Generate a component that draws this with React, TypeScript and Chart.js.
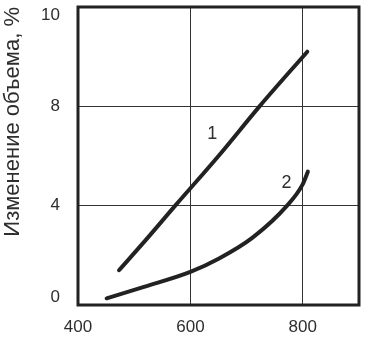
import React, { useEffect, useRef } from "react";
import { Chart, registerables } from "chart.js";

Chart.register(...registerables);

const curve1X = [473, 520, 573, 650, 723, 808];
const curve1Y = [1.4, 2.6, 4.0, 6.0, 8.0, 10.2];
const curve2X = [451, 516, 600, 651, 710, 772, 800, 809];
const curve2Y = [0.27, 0.72, 1.33, 1.87, 2.7, 4.0, 4.87, 5.37];

const xTicks = [400, 600, 800];
const yTickValues = [0, 4, 8, 12];
const yTickLabels = ["0", "4", "8", "10"];

const curveLabels = ["1", "2"];
const curveLabelX = [639, 771];
const curveLabelY = [6.88, 4.9];

const yTitle = "Изменение объема, %";

const INK = "#222222";
const TEXT = "#2e2e2e";
const FONT = "'Liberation Sans', Arial, sans-serif";

const framePlugin = {
  id: "frame",
  afterDraw(chart: any) {
    const { ctx, chartArea, scales } = chart;
    ctx.save();
    ctx.strokeStyle = INK;
    ctx.lineWidth = 3;
    ctx.strokeRect(
      chartArea.left,
      chartArea.top,
      chartArea.right - chartArea.left,
      chartArea.bottom - chartArea.top
    );
    ctx.fillStyle = TEXT;
    ctx.font = `18px ${FONT}`;
    ctx.textAlign = "center";
    ctx.textBaseline = "middle";
    curveLabels.forEach((t, i) => {
      ctx.fillText(
        t,
        scales.x.getPixelForValue(curveLabelX[i]),
        scales.y.getPixelForValue(curveLabelY[i])
      );
    });
    // y tick labels, kept inside the plot height like the reference
    ctx.font = `17px ${FONT}`;
    ctx.textAlign = "right";
    yTickValues.forEach((v, i) => {
      let py = scales.y.getPixelForValue(v);
      py = Math.max(chartArea.top + 8, Math.min(chartArea.bottom - 8, py));
      ctx.fillText(yTickLabels[i], chartArea.left - 18, py);
    });
    ctx.restore();
  },
};

const whiteBg = {
  id: "whiteBg",
  beforeDraw(chart: any) {
    const { ctx, width, height } = chart;
    ctx.save();
    ctx.fillStyle = "#ffffff";
    ctx.fillRect(0, 0, width, height);
    ctx.restore();
  },
};

export default function App() {
  const ref = useRef<HTMLCanvasElement>(null);

  useEffect(() => {
    if (!ref.current) return;
    const chart = new Chart(ref.current, {
      type: "line",
      data: {
        datasets: [
          {
            label: "1",
            data: curve1X.map((x, i) => ({ x, y: curve1Y[i] })),
            borderColor: INK,
            borderWidth: 4,
            pointRadius: 0,
            cubicInterpolationMode: "monotone",
            borderCapStyle: "round",
            fill: false,
          },
          {
            label: "2",
            data: curve2X.map((x, i) => ({ x, y: curve2Y[i] })),
            borderColor: INK,
            borderWidth: 4,
            pointRadius: 0,
            cubicInterpolationMode: "monotone",
            borderCapStyle: "round",
            fill: false,
          },
        ],
      },
      options: {
        responsive: false,
        animation: false,
        layout: { padding: { top: 7, right: 12, left: 0, bottom: 0 } },
        plugins: {
          legend: { display: false },
          tooltip: { enabled: false },
        },
        scales: {
          x: {
            type: "linear",
            min: 400,
            max: 900,
            afterBuildTicks: (s: any) => {
              s.ticks = xTicks.map((v) => ({ value: v }));
            },
            afterFit: (s: any) => {
              s.height = 32;
              s.paddingLeft = 0;
              s.paddingRight = 0;
            },
            grid: { color: "#333", lineWidth: 1, drawTicks: false },
            border: { display: false },
            ticks: {
              color: TEXT,
              font: { family: FONT, size: 17 },
              padding: 12,
              maxRotation: 0,
            },
          },
          y: {
            type: "linear",
            min: 0,
            max: 12,
            afterBuildTicks: (s: any) => {
              s.ticks = yTickValues.map((v) => ({ value: v }));
            },
            afterFit: (s: any) => {
              s.width = 78;
              s.paddingTop = 0;
              s.paddingBottom = 0;
            },
            grid: { color: "#333", lineWidth: 1, drawTicks: false },
            border: { display: false },
            ticks: {
              display: false,
              font: { family: FONT, size: 17 },
            },
            title: {
              display: true,
              text: yTitle,
              align: "end",
              color: TEXT,
              font: { family: FONT, size: 22 },
              padding: 0,
            },
          },
        },
      },
      plugins: [whiteBg, framePlugin],
    } as any);
    return () => chart.destroy();
  }, []);

  return (
    <div style={{ position: "fixed", left: 0, top: 0, width: 371, height: 337, background: "#fff" }}>
      <canvas ref={ref} width={371} height={337} style={{ width: 371, height: 337, display: "block" }} />
    </div>
  );
}
